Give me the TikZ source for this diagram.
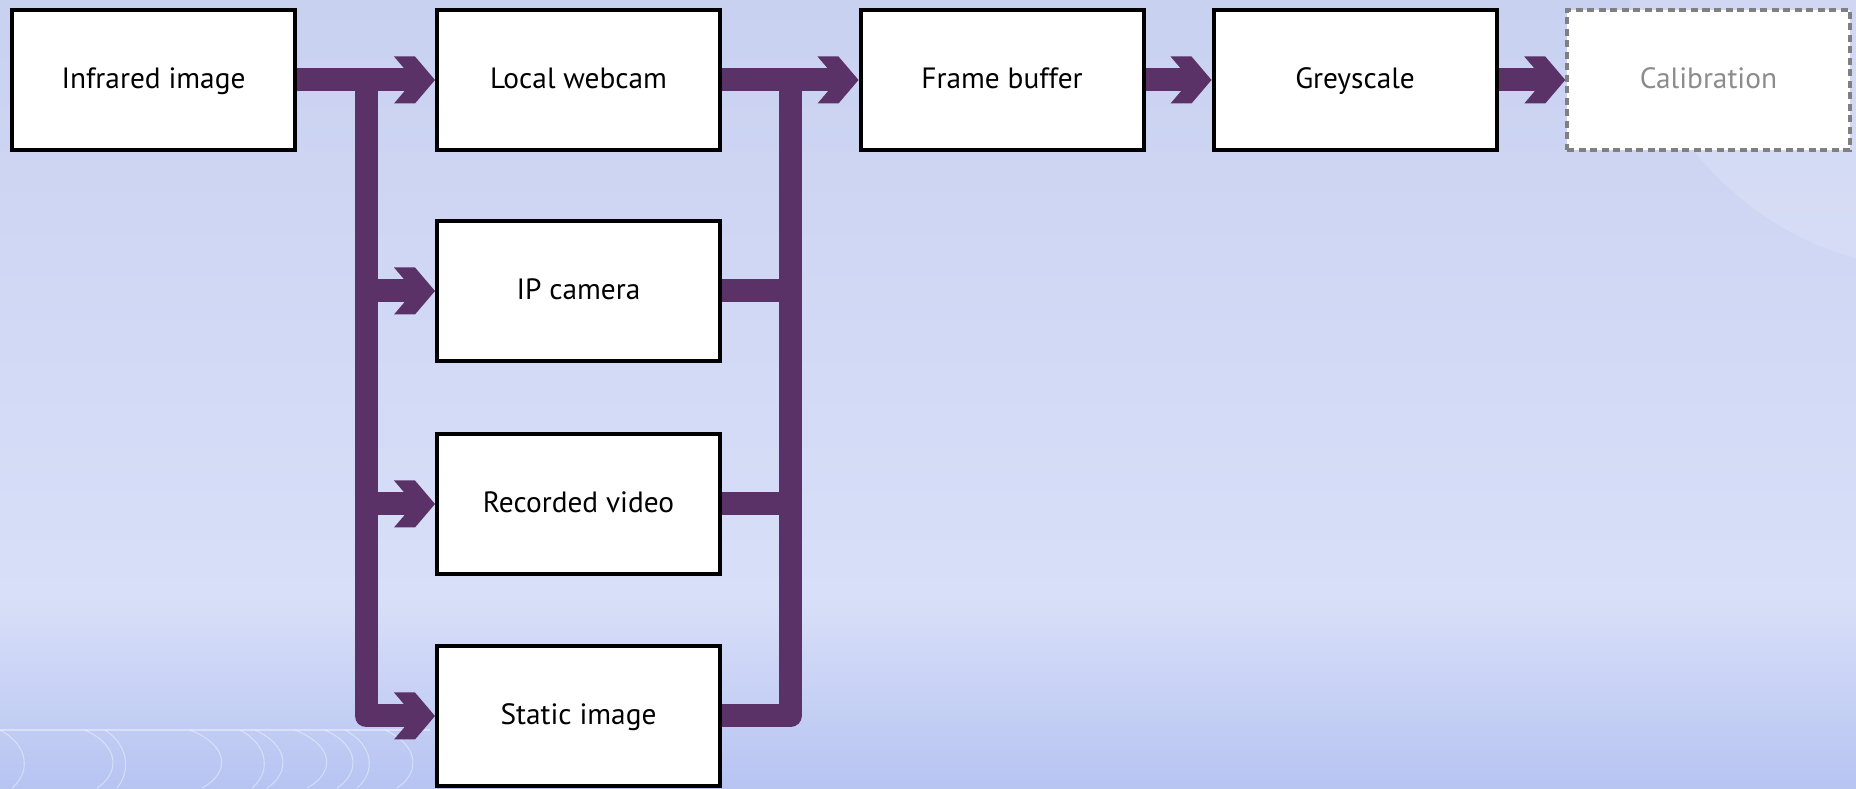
\documentclass[tikz,border=0pt]{standalone}
\usepackage{fontspec}
\setmainfont{PT Sans}
\usetikzlibrary{arrows.meta,calc}

\definecolor{flowpurple}{RGB}{90,50,103}
\definecolor{bgtop}{RGB}{201,209,241}
\definecolor{bgmid}{RGB}{216,223,248}
\definecolor{bgbot}{RGB}{183,196,242}

% chunky chevron head for the data flow
\pgfdeclarearrow{
  name = Chevron,
  setup code = {
    \pgfarrowssettipend{0pt}
    \pgfarrowssetbackend{-0.41cm}
    \pgfarrowssetlineend{-0.20cm}
    \pgfarrowshullpoint{0pt}{0pt}
    \pgfarrowsupperhullpoint{-0.41cm}{0.235cm}
  },
  drawing code = {
    \pgfpathmoveto{\pgfpointorigin}
    \pgfpathlineto{\pgfpoint{-0.20cm}{0.235cm}}
    \pgfpathlineto{\pgfpoint{-0.41cm}{0.235cm}}
    \pgfpathlineto{\pgfpoint{-0.21cm}{0pt}}
    \pgfpathlineto{\pgfpoint{-0.41cm}{-0.235cm}}
    \pgfpathlineto{\pgfpoint{-0.20cm}{-0.235cm}}
    \pgfpathclose
    \pgfusepathqfill
  }
}

\begin{document}
\begin{tikzpicture}[
    box/.style={draw=black, line width=0.04cm, fill=white, minimum width=2.83cm,
      minimum height=1.40cm, inner sep=0pt, text height=0.72em, text depth=0.24em,
      font=\fontsize{8.35}{10}\selectfont},
    ghost/.style={box, draw=gray, text=gray!90, dash pattern=on 0.07cm off 0.045cm,
      line width=0.035cm},
    flow/.style={draw=flowpurple, line width=0.23cm, -Chevron},
    bus/.style={draw=flowpurple, line width=0.23cm, line join=round},
    wave/.style={draw=white, opacity=0.4, line width=0.3pt}
  ]
  \useasboundingbox (0,0) rectangle (18.56,7.88);

  % backdrop
  \shade[top color=bgmid, bottom color=bgbot] (0,0) rectangle (18.56,1.9);
  \shade[top color=bgtop, bottom color=bgmid] (0,1.9) rectangle (18.56,7.88);
  \fill[white, opacity=0.15] (16.3,7.88) .. controls (16.4,6.7) and (17.4,5.6) .. (18.56,5.3)
    -- (18.56,7.88) -- cycle;
  \draw[wave] (0,0.58) -- (4.3,0.58);
  \foreach \x/\w in {0.0/0.3, 0.85/0.35, 1.05/0.25, 1.9/0.4, 2.4/0.3, 2.55/0.35,
                     2.95/0.4, 3.25/0.35, 3.45/0.3, 3.85/0.35}
    \draw[wave] (\x,0.58) .. controls (\x+\w,0.42) and (\x+\w,0.15) .. (\x+0.12,0);

  \def\rowA{7.08}
  \node[box] (ir) at (1.535, \rowA) {Infrared image};
  \node[box] (lw) at (5.785, \rowA) {Local webcam};
  \node[box] (ip) at (5.785, 4.97) {IP camera};
  \node[box] (rv) at (5.785, 2.84) {Recorded video};
  \node[box] (si) at (5.785, 0.72) {Static image};
  \node[box] (fb) at (10.02, \rowA) {Frame buffer};
  \node[box] (gs) at (13.55, \rowA) {Greyscale};
  \node[ghost] (cal) at (17.085, \rowA) {Calibration};

  \coordinate (split) at ($(ir.east)!0.5!(lw.west)$);
  \coordinate (merge) at ($(lw.east)!0.5!(fb.west)$);

  \draw[flow] (ir.east) -- (lw.west);
  \draw[flow] (lw.east) -- (fb.west);
  \draw[flow] (fb.east) -- (gs.west);
  \draw[flow] (gs.east) -- (cal.west);

  % fan out to the other sources
  \draw[flow, line join=round] (split) |- (si.west);
  \draw[flow] (split |- ip.west) -- (ip.west);
  \draw[flow] (split |- rv.west) -- (rv.west);

  % and back into the buffer
  \draw[bus] (si.east) -| (merge);
  \draw[bus] (ip.east) -- (merge |- ip.east);
  \draw[bus] (rv.east) -- (merge |- rv.east);
\end{tikzpicture}
\end{document}
